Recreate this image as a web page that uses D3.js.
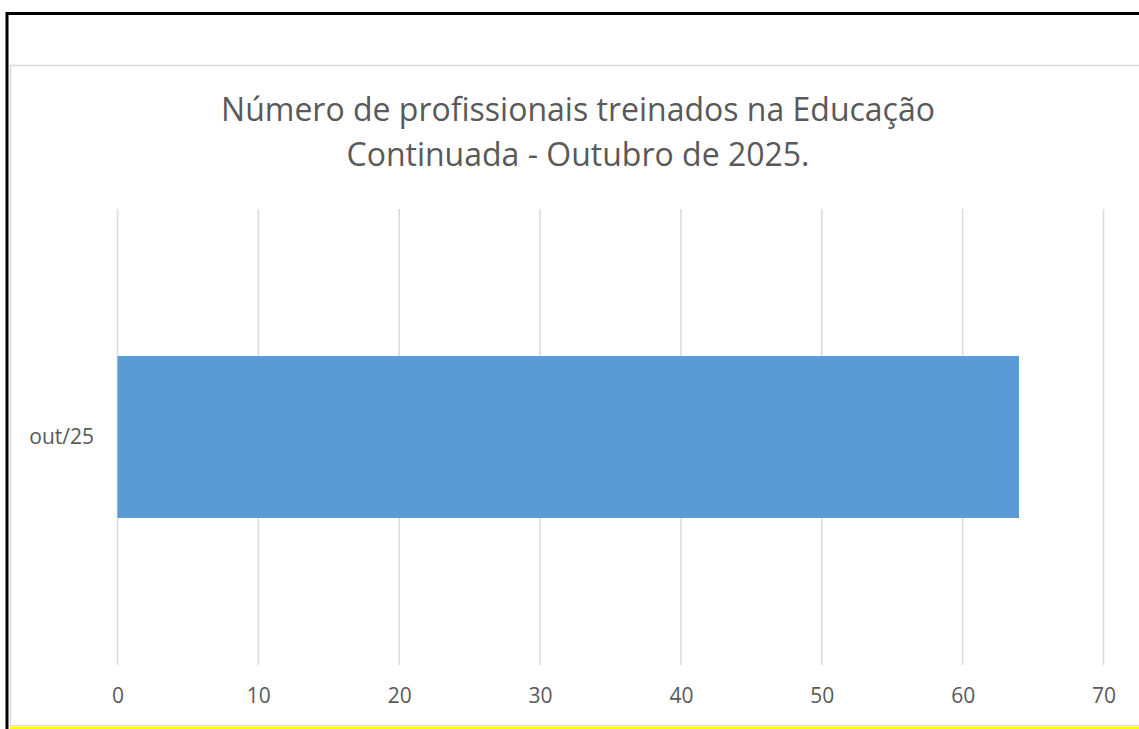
<!DOCTYPE html>
<html>
<head>
<meta charset="utf-8">
<script src="https://cdn.jsdelivr.net/npm/d3@7"></script>
<style>
  body { margin: 0; background: #fff; }
  text { font-family: "Open Sans", "Noto Sans", sans-serif; }
</style>
</head>
<body>
<div id="chart"></div>
<script>
// dados
let categories = ["out/25"]
let values = [64]
let ticks_x = [0, 10, 20, 30, 40, 50, 60, 70]
let title_lines = ["Número de profissionais treinados na Educação", "Continuada - Outubro de 2025."]

let width = 1139, height = 729
let plot = { left: 117.5, right: 1103.5, top: 209, bottom: 665 }

let svg = d3.select("#chart").append("svg")
    .attr("width", width)
    .attr("height", height)

svg.append("rect").attr("width", width).attr("height", height).attr("fill", "#fff")

// moldura preta de fora
svg.append("path")
    .attr("d", "M7,729 L7,13.5 L1139,13.5")
    .attr("fill", "none")
    .attr("stroke", "#000")
    .attr("stroke-width", 3)

// area do grafico
svg.append("path")
    .attr("d", "M10.5,726 L10.5,65.5 L1139,65.5")
    .attr("fill", "none")
    .attr("stroke", "#d9d9d9")
    .attr("stroke-width", 1.5)
svg.append("line")
    .attr("x1", 10).attr("x2", width)
    .attr("y1", 725.5).attr("y2", 725.5)
    .attr("stroke", "#d9d9d9")
    .attr("stroke-width", 1)

// linha amarela em baixo
svg.append("rect")
    .attr("x", 10).attr("y", 726.5)
    .attr("width", width - 10).attr("height", 3)
    .attr("fill", "#ffff00")

// titulo
svg.append("text")
    .attr("x", 578)
    .attr("y", 121)
    .attr("text-anchor", "middle")
    .attr("fill", "#595959")
    .style("font-size", "32px")
    .selectAll("tspan")
    .data(title_lines)
    .enter()
    .append("tspan")
    .attr("x", 578)
    .attr("dy", (d, i) => i == 0 ? 0 : 45)
    .text(d => d)

let x = d3.scaleLinear()
    .domain([0, 70])
    .range([plot.left, plot.right])

let y = d3.scaleBand()
    .domain(categories)
    .range([plot.top, plot.bottom])
    .paddingInner(0.5)
    .paddingOuter(0.454)

// grade vertical
svg.append("g")
    .selectAll("line")
    .data(ticks_x)
    .enter()
    .append("line")
    .attr("x1", d => x(d)).attr("x2", d => x(d))
    .attr("y1", plot.top).attr("y2", plot.bottom)
    .attr("stroke", "#d9d9d9")
    .attr("stroke-width", 1.5)

// barras
svg.append("g")
    .selectAll("rect")
    .data(values)
    .enter()
    .append("rect")
    .attr("x", x(0))
    .attr("y", (d, i) => y(categories[i]))
    .attr("width", d => x(d) - x(0))
    .attr("height", y.bandwidth())
    .attr("fill", "#5b9bd5")

// eixo x
let xAxis = svg.append("g")
    .attr("transform", "translate(0," + 696 + ")")
    .call(d3.axisBottom(x).tickValues(ticks_x).tickSize(0).tickPadding(0))
xAxis.select(".domain").remove()
xAxis.selectAll("text")
    .attr("dy", "0.35em")
    .attr("fill", "#595959")
    .style("font-size", "21px")
    .style("font-family", "'Open Sans', sans-serif")

// eixo y
let yAxis = svg.append("g")
    .attr("transform", "translate(" + 94 + ",0)")
    .call(d3.axisLeft(y).tickSize(0).tickPadding(0))
yAxis.select(".domain").remove()
yAxis.selectAll("text")
    .attr("fill", "#595959")
    .style("font-size", "21px")
    .style("font-family", "'Open Sans', sans-serif")
</script>
</body>
</html>
